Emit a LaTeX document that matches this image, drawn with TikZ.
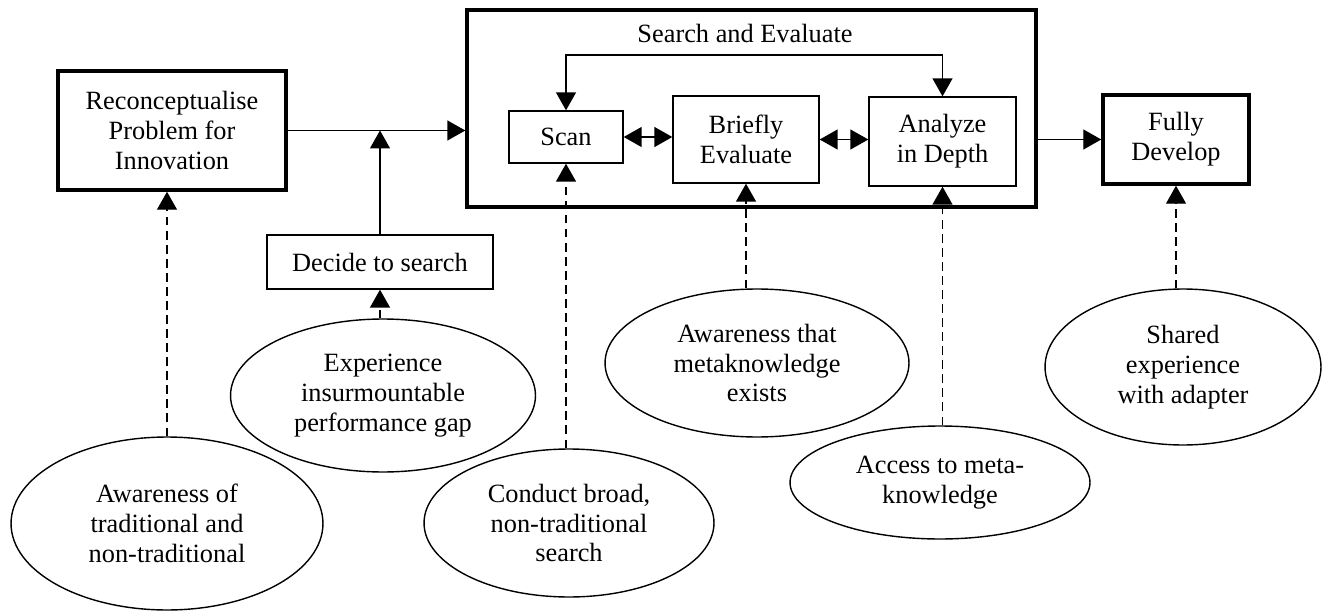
\documentclass[tikz,border=0pt]{standalone}
\usepackage{fontspec}
\setmainfont{Liberation Serif}
\usetikzlibrary{arrows.meta,shapes.geometric}
\tikzset{
  >={Triangle[length=3.6mm,width=4mm]},
  box/.style={draw,line width=0.8pt,inner sep=2pt,align=center},
  thickbox/.style={box,line width=2pt},
  oval/.style={draw,ellipse,line width=0.8pt,inner sep=0pt,align=center},
  dashlink/.style={dash pattern=on 5pt off 3pt}
}
\begin{document}
\begin{tikzpicture}[x=0.02cm,y=-0.02cm,font=\fontsize{15}{17}\selectfont]
      \useasboundingbox (0,0) rectangle (1327,611);
      \node[thickbox,minimum width=4.56cm,minimum height=2.38cm] (recon) at (172,130.5) {Reconceptualise\\Problem for\\Innovation};
      \node[thickbox,minimum width=11.38cm,minimum height=3.94cm] (search) at (751.5,108.5) {};
      \node (selabel) at (745,33) {Search and Evaluate};
      \node[box,minimum width=2.28cm,minimum height=1.04cm] (scan) at (566,137) {Scan};
      \node[box,minimum width=2.92cm,minimum height=1.74cm] (briefly) at (746,139.5) {Briefly\\Evaluate};
      \node[box,minimum width=2.94cm,minimum height=1.78cm] (analyze) at (942.5,141.5) {Analyze\\in Depth};
      \node[thickbox,minimum width=2.92cm,minimum height=1.78cm] (fully) at (1176,139.5) {Fully\\Develop};
      \node[box,minimum width=4.52cm,minimum height=1.08cm] (decide) at (380,262) {Decide to search};
      \node[oval,minimum width=6.24cm,minimum height=3.46cm] (awareof) at (167,523.5) {Awareness of\\traditional and\\non-traditional};
      \node[oval,minimum width=6.1cm,minimum height=3.06cm] (experience) at (383,395.5) {Experience\\insurmountable\\performance gap};
      \node[oval,minimum width=5.8cm,minimum height=2.96cm] (conduct) at (569,523) {Conduct broad,\\non-traditional\\search};
      \node[oval,minimum width=6.08cm,minimum height=2.96cm] (awarethat) at (757,363) {Awareness that\\metaknowledge\\exists};
      \node[oval,minimum width=6cm,minimum height=2.26cm] (access) at (940,482.5) {Access to meta-\\knowledge};
      \node[oval,minimum width=5.52cm,minimum height=3.12cm] (shared) at (1183,367) {Shared\\experience\\with adapter};
      \coordinate (loop) at (751.5,55);
      \begin{scope}[->,line width=0.8pt]
        \draw (recon.east) -- (recon.east -| search.west);
        \draw (decide.north) -- (decide.north |- recon.east);
        \draw (search.east |- fully.west) -- (fully.west);
        \draw[<->] (scan.east) -- (scan.east -| briefly.west);
        \draw[<->] (briefly.east) -- (briefly.east -| analyze.west);
        \draw[<->] (scan.north) -- (scan.north |- loop) -| (analyze.north);
      \end{scope}
      \begin{scope}[->,line width=0.8pt,dashlink]
        \draw (awareof.north) -- (awareof.north |- recon.south);
        \draw (decide.south |- experience.north) -- (decide.south);
        \draw (scan.south |- conduct.north) -- (scan.south);
        \draw (briefly.south |- awarethat.north) -- (briefly.south);
        \draw (analyze.south |- access.north) -- (analyze.south);
        \draw (fully.south |- shared.north) -- (fully.south);
      \end{scope}
    \end{tikzpicture}
\end{document}
